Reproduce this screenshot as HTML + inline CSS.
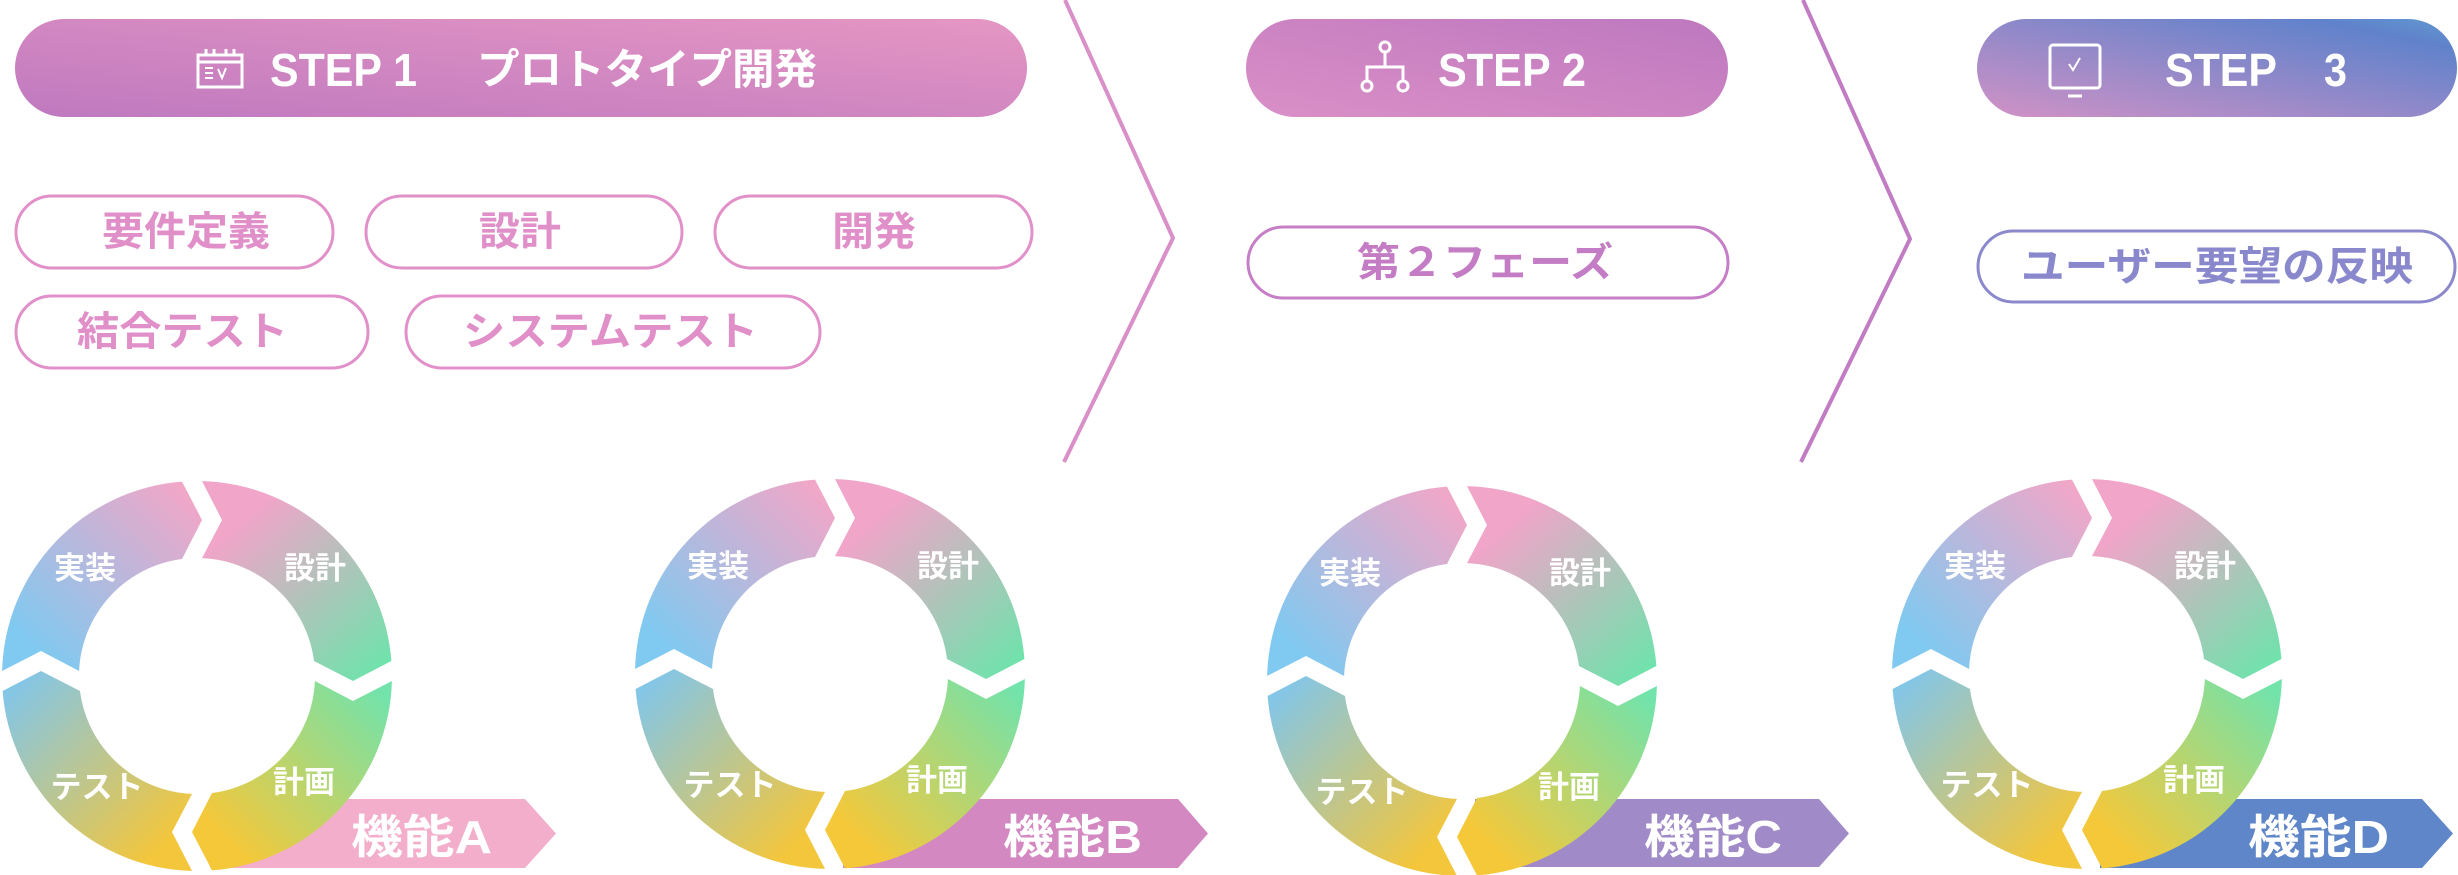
<!DOCTYPE html>
<html><head><meta charset="utf-8"><style>
html,body{margin:0;padding:0;background:#fff;}
svg{display:block;}
text{font-family:"Liberation Sans","Noto Sans CJK JP",sans-serif;}
</style></head><body>
<svg width="2458" height="875" viewBox="0 0 2458 875" xmlns="http://www.w3.org/2000/svg">
<defs>
<linearGradient id="g1" x1="0" y1="1" x2="1" y2="0"><stop offset="0" stop-color="#bf79bf"/><stop offset="1" stop-color="#e596c3"/></linearGradient>
<linearGradient id="g2" x1="0" y1="1" x2="1" y2="0"><stop offset="0" stop-color="#da8fc6"/><stop offset="1" stop-color="#bd78bf"/></linearGradient>
<linearGradient id="g3" x1="0" y1="1" x2="1" y2="0"><stop offset="0" stop-color="#d192c6"/><stop offset="0.85" stop-color="#6082cb"/><stop offset="1" stop-color="#5f9ad0"/></linearGradient>
<linearGradient id="sTR" gradientUnits="userSpaceOnUse" x1="40" y1="-180" x2="190" y2="-10"><stop offset="0.1" stop-color="#f0a5c9"/><stop offset="1" stop-color="#6ee3ab"/></linearGradient>
<linearGradient id="sBR" gradientUnits="userSpaceOnUse" x1="190" y1="20" x2="20" y2="190"><stop offset="0" stop-color="#72e3ab"/><stop offset="0.9" stop-color="#f5c83a"/></linearGradient>
<linearGradient id="sBL" gradientUnits="userSpaceOnUse" x1="-190" y1="20" x2="-20" y2="190"><stop offset="0" stop-color="#84c6e6"/><stop offset="0.9" stop-color="#f3c63c"/></linearGradient>
<linearGradient id="sTL" gradientUnits="userSpaceOnUse" x1="-190" y1="-20" x2="-20" y2="-190"><stop offset="0.1" stop-color="#80c9f0"/><stop offset="1" stop-color="#f0a7c8"/></linearGradient>
<g id="ring">
<path d="M 5,-194.9 A195 195 0 0 1 194.4,-15 L 156,5 L 117,-15 A118 118 0 0 0 5,-117.9 L 25,-156 Z" fill="url(#sTR)"/>
<path d="M 194.9,5 A195 195 0 0 1 15,194.4 L -5,156 L 15,117 A118 118 0 0 0 117.9,5 L 156,25 Z" fill="url(#sBR)"/>
<path d="M -5,194.9 A195 195 0 0 1 -194.4,15 L -156,-5 L -117,15 A118 118 0 0 0 -5,117.9 L -25,156 Z" fill="url(#sBL)"/>
<path d="M -194.9,-5 A195 195 0 0 1 -15,-194.4 L 5,-156 L -15,-117 A118 118 0 0 0 -117.9,-5 L -156,-25 Z" fill="url(#sTL)"/>
<g fill="#fff" font-size="31" font-weight="700" text-anchor="middle">
<text x="-112" y="-97">実装</text>
<text x="118" y="-97">設計</text>
<text x="107" y="117">計画</text>
<text x="-100" y="122">テスト</text>
</g>
</g>
</defs>

<rect x="15" y="19" width="1012" height="98" rx="49" fill="url(#g1)"/>
<rect x="1246" y="19" width="482" height="98" rx="49" fill="url(#g2)"/>
<rect x="1977" y="19" width="480" height="98" rx="49" fill="url(#g3)"/>

<g stroke="#fff" stroke-width="3" fill="none">
<rect x="198" y="55" width="44" height="32"/>
<line x1="198" y1="62" x2="242" y2="62"/>
<line x1="206" y1="49" x2="206" y2="55"/><line x1="214" y1="49" x2="214" y2="55"/><line x1="226" y1="49" x2="226" y2="55"/><line x1="234" y1="49" x2="234" y2="55"/>
<path d="M205 68 h8 M205 73 h8 M205 78 h8 M218 69 l4 9 l4 -10" stroke-width="2"/>
</g>
<g stroke="#fff" stroke-width="3" fill="none">
<circle cx="1385" cy="47" r="5"/>
<line x1="1385" y1="52" x2="1385" y2="67"/>
<path d="M1367 80 V67 H1403 V80"/>
<circle cx="1367" cy="86" r="5"/><circle cx="1403" cy="86" r="5"/>
</g>
<g stroke="#fff" stroke-width="3" fill="none">
<rect x="2050" y="45" width="50" height="43" rx="3"/>
<line x1="2068" y1="96" x2="2082" y2="96"/>
<path d="M2069 64 l4 6 l7 -12" stroke-width="2"/>
</g>

<g fill="#fff" font-weight="700">
<text x="270" y="86" font-size="46" textLength="147" lengthAdjust="spacingAndGlyphs">STEP 1</text>
<text x="477" y="84" font-size="42" textLength="340" lengthAdjust="spacingAndGlyphs">プロトタイプ開発</text>
<text x="1438" y="86" font-size="46" textLength="148" lengthAdjust="spacingAndGlyphs">STEP 2</text>
<text x="2165" y="86" font-size="46" textLength="112" lengthAdjust="spacingAndGlyphs">STEP</text>
<text x="2324" y="86" font-size="46" textLength="23" lengthAdjust="spacingAndGlyphs">3</text>
</g>

<polyline points="1065,0 1173,238 1064,462" fill="none" stroke="#d98fc8" stroke-width="4"/>
<polyline points="1803,0 1910,239 1801,462" fill="none" stroke="#c27cc4" stroke-width="4"/>

<g fill="none" stroke="#e190c9" stroke-width="3">
<rect x="16" y="196" width="317" height="72" rx="36"/>
<rect x="366" y="196" width="316" height="72" rx="36"/>
<rect x="715" y="196" width="317" height="72" rx="36"/>
<rect x="16" y="296" width="352" height="72" rx="36"/>
<rect x="406" y="296" width="414" height="72" rx="36"/>
</g>
<rect x="1248" y="227" width="480" height="71" rx="35.5" fill="none" stroke="#c67fc6" stroke-width="3"/>
<rect x="1978" y="231" width="477" height="71" rx="35.5" fill="none" stroke="#8b88cc" stroke-width="3"/>
<g font-size="40" font-weight="700" dominant-baseline="central">
<text fill="#e08fc8" x="102" y="232" textLength="168" lengthAdjust="spacingAndGlyphs">要件定義</text>
<text fill="#e08fc8" x="479" y="232" textLength="82" lengthAdjust="spacingAndGlyphs">設計</text>
<text fill="#e08fc8" x="832" y="232" textLength="84" lengthAdjust="spacingAndGlyphs">開発</text>
<text fill="#e08fc8" x="77" y="332" textLength="211" lengthAdjust="spacingAndGlyphs">結合テスト</text>
<text fill="#e08fc8" x="463" y="332" textLength="295" lengthAdjust="spacingAndGlyphs">システムテスト</text>
<text fill="#c47cc4" x="1357" y="263" textLength="256" lengthAdjust="spacingAndGlyphs">第２フェーズ</text>
<text fill="#8a88cc" x="2021" y="267" textLength="392" lengthAdjust="spacingAndGlyphs">ユーザー要望の反映</text>
</g>

<polygon points="210,799 525,799 556,833.5 525,868 210,868" fill="#f2aecb"/>
<polygon points="843,799 1178,799 1208,833.5 1178,868 843,868" fill="#d388c2"/>
<polygon points="1475,799 1819,799 1849,833.5 1819,867 1475,867" fill="#a08bc8"/>
<polygon points="2100,799 2422,799 2453,833.5 2422,868 2100,868" fill="#5f86c8"/>

<use href="#ring" transform="translate(197,676)"/>
<use href="#ring" transform="translate(830,674)"/>
<use href="#ring" transform="translate(1462,681)"/>
<use href="#ring" transform="translate(2087,674)"/>

<g fill="#fff" font-size="46" font-weight="700">
<text x="351" y="853" textLength="141" lengthAdjust="spacingAndGlyphs">機能A</text>
<text x="1003" y="853" textLength="139" lengthAdjust="spacingAndGlyphs">機能B</text>
<text x="1644" y="853" textLength="138" lengthAdjust="spacingAndGlyphs">機能C</text>
<text x="2248" y="853" textLength="141" lengthAdjust="spacingAndGlyphs">機能D</text>
</g>
</svg>
</body></html>
